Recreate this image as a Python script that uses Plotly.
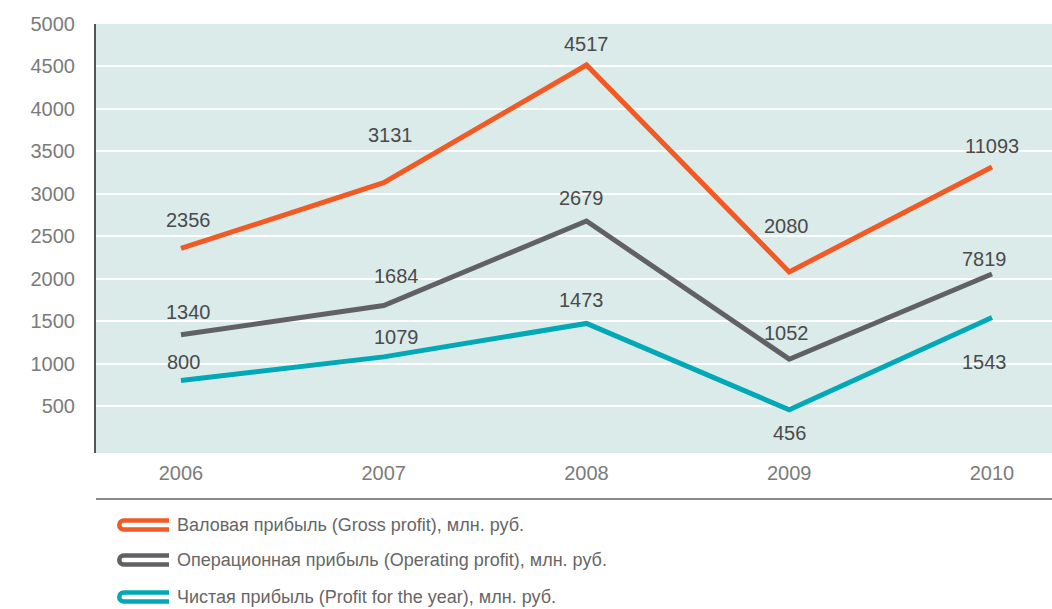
import plotly.graph_objects as go

# ---- data -------------------------------------------------------------
years = [2006, 2007, 2008, 2009, 2010]

gross_profit = [2356, 3131, 4517, 2080, 3316]
operating_profit = [1340, 1684, 2679, 1052, 2055]
net_profit = [800, 1079, 1473, 456, 1543]

gross_labels = ["2356", "3131", "4517", "2080", "11093"]
operating_labels = ["1340", "1684", "2679", "1052", "7819"]
net_labels = ["800", "1079", "1473", "456", "1543"]

series_names = [
    "Валовая прибыль (Gross profit), млн. руб.",
    "Операционная прибыль (Operating profit), млн. руб.",
    "Чистая прибыль (Profit for the year), млн. руб.",
]

y_ticks = [500, 1000, 1500, 2000, 2500, 3000, 3500, 4000, 4500, 5000]

# ---- style ------------------------------------------------------------
ORANGE = "#f15a24"
GREY = "#616165"
TEAL = "#00a9b5"
BG = "#dbebea"
LABEL_COLOR = "#4a4a4a"
TICK_COLOR = "#7b7b7b"
NUM_FONT = "Liberation Sans, Arial, sans-serif"

W, H = 1052, 609
M_L, M_R, M_T, M_B = 96, 0, 24, 156
PLOT_H = H - M_T - M_B
PLOT_W = W - M_L - M_R


def paper_x(px):
    return (px - M_L) / PLOT_W


def paper_y(py):
    return (H - M_B - py) / PLOT_H


series = [
    (gross_profit, gross_labels, ORANGE,
     [(8, 28), (7, 48), (0, 21), (-3, 46), (0, 21)]),
    (operating_profit, operating_labels, GREY,
     [(8, 23), (13, 30), (-5, 23), (-3, 26), (-7, 15)]),
    (net_profit, net_labels, TEAL,
     [(3, 19), (13, 20), (-5, 23), (0, -23), (-7, -44)]),
]

fig = go.Figure()
annotations = []

for (vals, labels, color, offsets), name in zip(series, series_names):
    fig.add_trace(go.Scatter(
        x=years, y=vals, mode="lines", name=name,
        line=dict(color=color, width=5),
        showlegend=False, hoverinfo="skip",
    ))
    for yr, v, lab, (dx, dy) in zip(years, vals, labels, offsets):
        annotations.append(dict(
            x=yr, y=v, xref="x", yref="y", text=lab, showarrow=False,
            xshift=dx, yshift=dy, xanchor="center", yanchor="middle",
            font=dict(family=NUM_FONT, size=20, color=LABEL_COLOR),
        ))

shapes = []

# separator above the legend
shapes.append(dict(
    type="line", xref="paper", yref="paper",
    x0=0, x1=1, y0=paper_y(499), y1=paper_y(499),
    line=dict(color="#8a8a8a", width=2),
))

# legend: open capsule symbols and captions
legend_rows = [525, 560, 597]
colors = [ORANGE, GREY, TEAL]
capsule = ("M 73,-4.5 L 27.75,-4.5 C 25.26,-4.5 23.25,-2.49 23.25,0 "
           "C 23.25,2.49 25.26,4.5 27.75,4.5 L 73,4.5")
for row_y, color, name in zip(legend_rows, colors, series_names):
    shapes.append(dict(
        type="path", xref="paper", yref="paper",
        xsizemode="pixel", ysizemode="pixel",
        xanchor=0, yanchor=paper_y(row_y),
        path=capsule, line=dict(color=color, width=4.5),
        fillcolor="rgba(0,0,0,0)",
    ))
    annotations.append(dict(
        x=paper_x(175), y=paper_y(row_y), xref="paper", yref="paper",
        text=name, showarrow=False, xanchor="left", yanchor="middle",
        font=dict(family=NUM_FONT, size=18, color="#666666"),
    ))

fig.update_layout(
    width=W, height=H,
    margin=dict(l=M_L, r=M_R, t=M_T, b=M_B, pad=0),
    paper_bgcolor="white",
    plot_bgcolor=BG,
    showlegend=False,
    annotations=annotations,
    shapes=shapes,
    xaxis=dict(
        range=[2005.581, 2010.296],
        tickvals=years, ticktext=[str(y) for y in years],
        showgrid=False, zeroline=False, showline=False,
        ticks="", ticklabelstandoff=6,
        tickfont=dict(family=NUM_FONT, size=20, color=TICK_COLOR),
        fixedrange=True,
    ),
    yaxis=dict(
        range=[-53, 5000],
        tickvals=y_ticks, ticktext=[str(t) for t in y_ticks],
        showgrid=True, gridcolor="white", gridwidth=1.5,
        zeroline=False,
        showline=True, linecolor="#555555", linewidth=2,
        ticks="", ticklabelstandoff=15,
        tickfont=dict(family=NUM_FONT, size=20, color=TICK_COLOR),
        fixedrange=True,
    ),
)

fig.write_html("out.html", config={"displayModeBar": False})
